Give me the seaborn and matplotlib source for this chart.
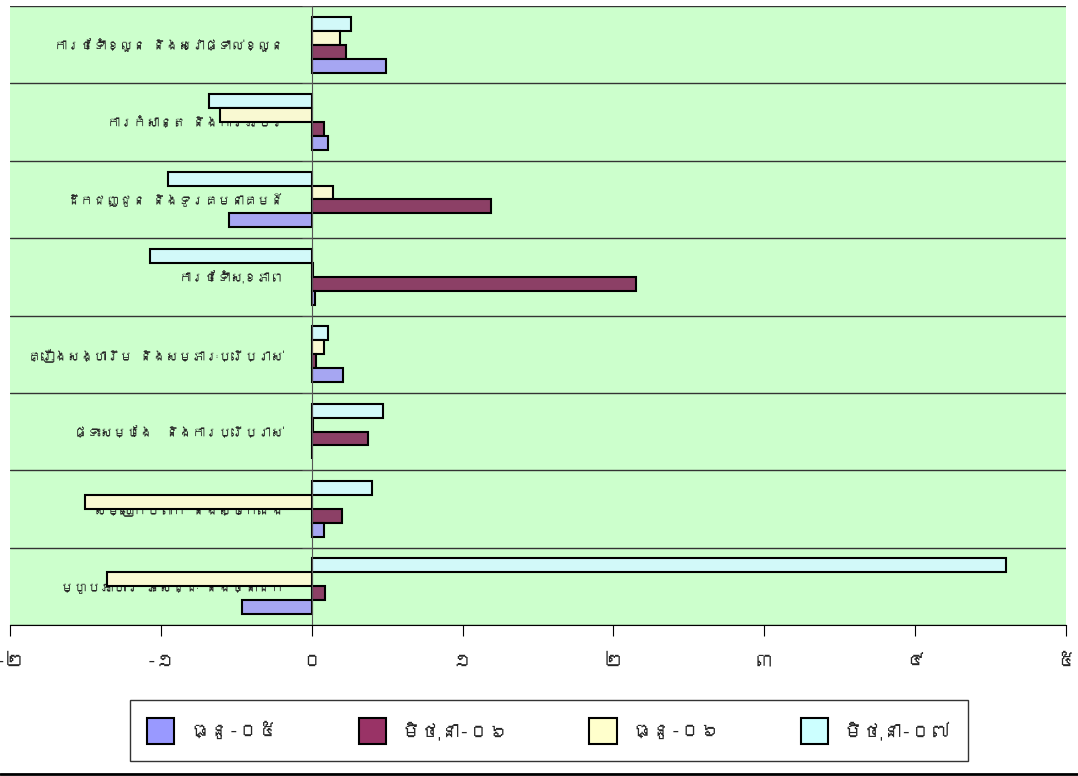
import seaborn as sns
import matplotlib.pyplot as plt
import matplotlib.patches as mpatches
import matplotlib.lines as mlines
import pandas as pd
from matplotlib import font_manager
from matplotlib.ft2font import FT2Font

# data
categories = ['ការថែទាំខ្លួន និងសេវាផ្ទាល់ខ្លួន',
              'ការកំសាន្ត និងការអប់រំ',
              'ដឹកជញ្ជូន និងទូរគមនាគមន៍',
              'ការថែទាំសុខភាព',
              'គ្រឿងសង្ហារឹម និងសម្ភារៈប្រើប្រាស់',
              'ផ្ទះសម្បែង  និងការប្រើប្រាស់',
              'សម្លៀកបំពាក់ និងស្បែកជើង',
              'ម្ហូបអាហារ ភេសជ្ជៈ និងថ្នាំជក់']
series = ['ធ្នូ-០៥', 'មិថុនា-០៦', 'ធ្នូ-០៦', 'មិថុនា-០៧']
dec05 = [0.49, 0.11, -0.55, 0.02, 0.21, 0.00, 0.08, -0.46]
jun06 = [0.23, 0.08, 1.19, 2.15, 0.03, 0.37, 0.20, 0.09]
dec06 = [0.19, -0.61, 0.14, 0.01, 0.08, 0.01, -1.50, -1.36]
jun07 = [0.26, -0.68, -0.95, -1.07, 0.11, 0.47, 0.40, 4.60]
xticks = [-2, -1, 0, 1, 2, 3, 4, 5]
xtick_labels = ['-២', '-១', '០', '១', '២', '៣', '៤', '៥']
colors = ['#9999FF', '#993366', '#FFFFCC', '#CCFFFF']

df = pd.DataFrame({'cat': categories * 4,
                   'val': dec05 + jun06 + dec06 + jun07,
                   'ser': [s for s in series for _ in categories]})


# find something that can draw Khmer
def khmer_font():
    for f in font_manager.fontManager.ttflist:
        try:
            if 0x1780 in FT2Font(f.fname).get_charmap():
                return f.name
        except Exception:
            pass
    return None


sns.set_style('white')
kf = khmer_font()
plt.rcParams['font.family'] = [kf, 'DejaVu Sans'] if kf else ['DejaVu Sans']

fig = plt.figure(figsize=(10.78, 7.76), dpi=100)
ax = fig.add_axes([10 / 1078, 1 - 625 / 776, 1056 / 1078, 619 / 776])
ax.set_facecolor('#CCFFCC')

# reversed hue order so that the last series sits on top in each group
sns.barplot(data=df, x='val', y='cat', hue='ser', orient='h',
            hue_order=series[::-1], palette=dict(zip(series, colors)),
            order=categories, width=0.72, gap=0, edgecolor='black',
            linewidth=1.5, ax=ax, legend=False)

ax.set_xlim(-2, 5)
ax.set_ylim(7.5, -0.5)
ax.set_xticks(xticks)
ax.set_xticklabels(xtick_labels, fontsize=14)
ax.set_xlabel('')
ax.set_ylabel('')

ax.set_yticks([i + 0.5 for i in range(-1, 8)], minor=True)
ax.tick_params(axis='y', which='major', length=0, pad=20, labelsize=13)
ax.tick_params(axis='y', which='minor', length=7, color='#555555', direction='out', left=True)
ax.tick_params(axis='x', length=8, color='black', direction='out', bottom=True, pad=12)
ax.grid(axis='y', which='minor', color='#333333', linewidth=1)
ax.grid(axis='y', which='major', visible=False)
ax.set_axisbelow(True)

for s in ['top', 'right']:
    ax.spines[s].set_visible(False)
ax.spines['left'].set_position(('data', 0))
ax.spines['left'].set_color('#555555')
ax.spines['bottom'].set_color('black')

# shrink the category labels so the longest one fits left of zero
fig.canvas.draw()
r = fig.canvas.get_renderer()
widest = max(t.get_window_extent(r).width for t in ax.get_yticklabels())
lab_size = min(14, 13 * 255 / widest)
ax.tick_params(axis='y', which='major', labelsize=lab_size)

handles = [mpatches.Patch(facecolor=c, edgecolor='black', linewidth=1.5) for c in colors]
leg = fig.legend(handles, series, loc='lower left', ncol=4, mode='expand',
                 bbox_to_anchor=(120 / 1078, 5 / 776, 858 / 1078, 72 / 776),
                 fontsize=14, handlelength=1.4, handleheight=1.7,
                 fancybox=False, frameon=True, borderpad=0.9)
leg.get_frame().set_edgecolor('black')
leg.get_frame().set_linewidth(1)

fig.add_artist(mlines.Line2D([0, 1], [0.002, 0.002], color='black', linewidth=2,
                             transform=fig.transFigure))

fig.savefig('out.png', dpi=100)
